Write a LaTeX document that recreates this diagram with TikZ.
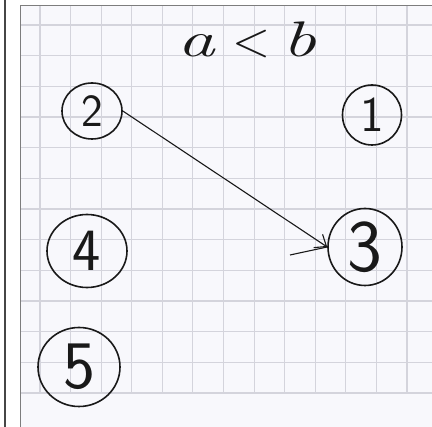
\documentclass[tikz,border=0pt]{standalone}
\usepackage{fontspec}
\usepackage{graphicx}
\usetikzlibrary{shapes.geometric,arrows.meta}
\definecolor{paper}{RGB}{248,248,252}
\definecolor{gridc}{RGB}{212,212,220}
\definecolor{framec}{RGB}{125,125,125}
\definecolor{edgec}{RGB}{70,70,70}
\definecolor{ink}{RGB}{25,25,25}
\tikzset{
  gridline/.style={draw=gridc, line width=1.1pt},
  vtx/.style={ellipse, draw=ink, line width=1.6pt, inner sep=0pt, text=ink},
  edgeline/.style={draw=ink, line width=1.1pt},
}
\begin{document}
\begin{tikzpicture}[x=1pt,y=-1pt]
\useasboundingbox (0,0) rectangle (432,427);
\fill[white] (0,0) rectangle (432,427);
\fill[paper] (20,6) rectangle (432,427);
\foreach \i in {0,...,12} {
  \draw[gridline] ({40+30.58*\i},6) -- ({40+30.58*\i},393);
  \draw[gridline] (20,{25+30.67*\i}) -- (432,{25+30.67*\i});
}
\draw[framec, line width=1pt] (20,427) -- (20,6) -- (432,6);
\draw[edgec, line width=1.6pt] (5,0) -- (5,427);

\node[text=ink, anchor=base, inner sep=0pt, font=\fontsize{50}{50}\selectfont] (title) at (247,57)
  {\scalebox{1.5}[1]{\itshape a}\hspace{18pt}<\hspace{12pt}\scalebox{1.5}[1]{\itshape b}};
\node[vtx, minimum width=60pt, minimum height=56pt, font=\sffamily\fontsize{46}{46}\selectfont] (n2) at (92,111) {2};
\node[vtx, minimum width=59pt, minimum height=60pt, font=\sffamily\fontsize{50}{50}\selectfont] (n1) at (372,115) {1};
\node[vtx, minimum width=74pt, minimum height=77pt, font=\sffamily\fontsize{74}{74}\selectfont] (n3) at (365,247) {3};
\node[vtx, minimum width=80pt, minimum height=73pt, font=\sffamily\fontsize{60}{60}\selectfont] (n4) at (87,251) {4};
\node[vtx, minimum width=82pt, minimum height=79pt, font=\sffamily\fontsize{68}{68}\selectfont] (n5) at (79,367) {5};

\draw[edgeline, -{Straight Barb[length=10pt,width=16pt,line width=1.1pt]}] (n2.east) -- (n3.west);
\coordinate (tail) at (290,255);
\draw[edgeline] (tail) -- (n3.west);
\end{tikzpicture}
\end{document}
